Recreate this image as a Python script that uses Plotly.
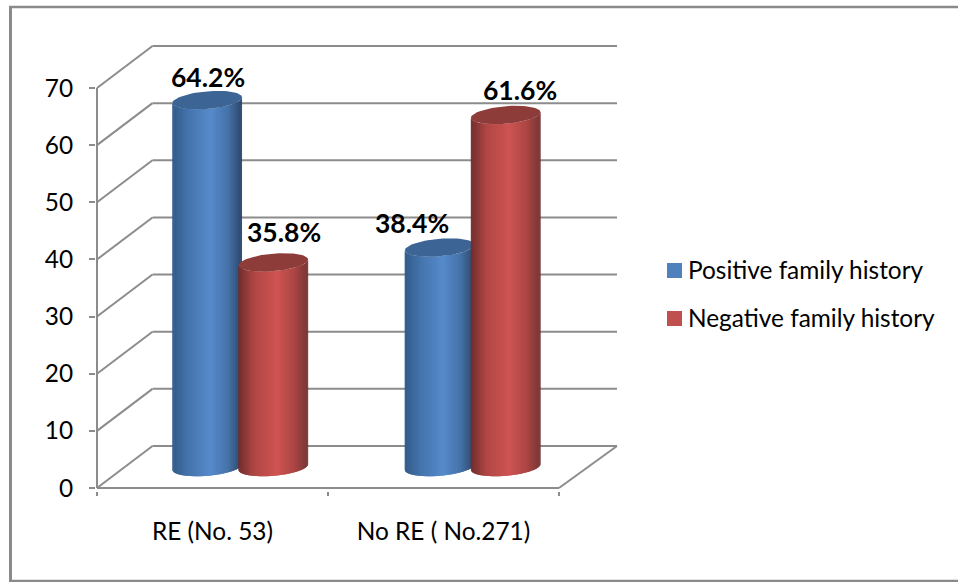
import math
import plotly.graph_objects as go

# Chart values
categories = ["RE (No. 53)", "No RE ( No.271)"]
series_names = ["Positive family history", "Negative family history"]
positive_values = [64.2, 38.4]
negative_values = [35.8, 61.6]
value_ticks = [0, 10, 20, 30, 40, 50, 60, 70]

# Pixel scale of the axes
PX_X = 231.0
PX_Y = 400.0 / 70.0
FONT = "Lato"
TICK_SIZE = 24.4
GRID = "#8c8c8c"
LEFT, RIGHT, TOP, BOTTOM = 96, 618, 42, 491
x_min = (LEFT - 97) / PX_X
x_max = (RIGHT - 97) / PX_X
y_max = (488 - TOP) / PX_Y
y_min = (488 - BOTTOM) / PX_Y

# Box depth used for the back wall and side wall
DEPTH_X = 55.5 / PX_X
DEPTH_Y = 42.0 / PX_Y
BACK_END = (617 - 97) / PX_X

# Cylinder proportions and placement
CLUSTER_CENTERS = [0.5, 1.506]
HALF_W = 34.8 / PX_X
ELL_B = 8.8 / PX_Y
ELL_TILT = 2.8 / PX_Y
BAR_SHIFT = 0.143
N_STRIPS = 60

BLUE_STOPS = [(-1, (50, 90, 138)), (-0.55, (68, 116, 172)), (0.1, (86, 138, 203)),
              (0.6, (70, 114, 168)), (1, (43, 70, 106))]
RED_STOPS = [(-1, (112, 46, 46)), (-0.55, (176, 70, 68)), (0.1, (206, 84, 82)),
             (0.6, (172, 70, 68)), (1, (116, 54, 54))]
BLUE_TOP = "rgb(60,100,148)"
RED_TOP = "rgb(142,60,58)"
LEGEND_COLORS = ["#4f81bd", "#c0504d"]


def shade(stops, u):
    for (u0, c0), (u1, c1) in zip(stops, stops[1:]):
        if u <= u1:
            f = (u - u0) / (u1 - u0)
            r, g, b = (round(a + (c - a) * f) for a, c in zip(c0, c1))
            return f"rgb({r},{g},{b})"
    return "rgb(%d,%d,%d)" % stops[-1][1]


def cylinder(center, value, stops, top_color):
    """Traces for one cylinder standing at mid-depth of the box."""
    traces = []
    base = DEPTH_Y / 2
    top = base + value

    def arc(level, t):
        return level - ELL_B * math.sin(t) + ELL_TILT * math.cos(t)

    # Strips are painted left to right, each overlapping the next to hide seams
    for i in range(N_STRIPS):
        t0 = math.pi * (1 - i / N_STRIPS)
        t1 = math.pi * (1 - (i + 1) / N_STRIPS)
        t2 = max(0.0, math.pi * (1 - (i + 2) / N_STRIPS))
        x0 = center + HALF_W * math.cos(t0)
        x2 = center + HALF_W * math.cos(t2)
        color = shade(stops, (math.cos(t0) + math.cos(t1)) / 2)
        traces.append(go.Scatter(
            x=[x0, x2, x2, x0, x0],
            y=[arc(base, t0), arc(base, t2), arc(top, t2), arc(top, t0), arc(base, t0)],
            mode="lines", fill="toself", fillcolor=color,
            line=dict(color=color, width=0),
            hoverinfo="skip", showlegend=False,
        ))
    steps = [2 * math.pi * k / 72 for k in range(73)]
    traces.append(go.Scatter(
        x=[center + HALF_W * math.cos(t) for t in steps],
        y=[top + ELL_B * math.sin(t) + ELL_TILT * math.cos(t) for t in steps],
        mode="lines", fill="toself", fillcolor=top_color,
        line=dict(color=top_color, width=0),
        hoverinfo="skip", showlegend=False,
    ))
    return traces


fig = go.Figure()

# Blue cylinders first so the red ones overlap them
for cluster, v in zip(CLUSTER_CENTERS, positive_values):
    for tr in cylinder(cluster + DEPTH_X / 2 - BAR_SHIFT, v, BLUE_STOPS, BLUE_TOP):
        fig.add_trace(tr)
for cluster, v in zip(CLUSTER_CENTERS, negative_values):
    for tr in cylinder(cluster + DEPTH_X / 2 + BAR_SHIFT, v, RED_STOPS, RED_TOP):
        fig.add_trace(tr)

# Legend entries: the text comes from the legend, the swatches are placed beside it
for name in series_names:
    fig.add_trace(go.Scatter(
        x=[None], y=[None], mode="markers", name=name, legendgroup=name,
        marker=dict(symbol="square", size=15, color="rgba(0,0,0,0)",
                    line=dict(width=0)),
    ))

# Box lines: floor edge, left axis, side-wall diagonals and back-wall gridlines
shapes = []


def box_line(x0, y0, x1, y1):
    shapes.append(dict(type="line", xref="x", yref="y", x0=x0, y0=y0, x1=x1, y1=y1,
                       layer="below", line=dict(color=GRID, width=2)))


box_line(0, 0, 2, 0)
box_line(0, 0, 0, value_ticks[-1])
box_line(2, 0, BACK_END, DEPTH_Y)
for v in value_ticks:
    box_line(0, v, DEPTH_X, v + DEPTH_Y)
    box_line(DEPTH_X, v + DEPTH_Y, BACK_END, v + DEPTH_Y)

# Outer chart frame (no right edge)
W, H = 958, 582
plot_w, plot_h = RIGHT - LEFT, BOTTOM - TOP


def px(x):
    return (x - LEFT) / plot_w


def py(y):
    return (BOTTOM - y) / plot_h


for (xa, ya, xb, yb, lw) in [(10.5, 7, 10.5, 582, 3), (9, 7, 958, 7, 2.5), (9, 581, 958, 581, 2.5)]:
    shapes.append(dict(type="line", xref="paper", yref="paper",
                       x0=px(xa), y0=py(ya), x1=px(xb), y1=py(yb),
                       line=dict(color="#8a8a8a", width=lw)))

# Legend swatches
for (y_top, color) in zip([263, 311], LEGEND_COLORS):
    shapes.append(dict(type="rect", xref="paper", yref="paper",
                       x0=px(667), x1=px(682), y0=py(y_top), y1=py(y_top + 15),
                       fillcolor=color, line=dict(width=0)))

# Value labels above the cylinders
label_offsets = {  # (series, category): pixel shift from the cylinder top
    (0, 0): (1, 23), (1, 0): (11, 30), (0, 1): (-28, 25), (1, 1): (14, 25),
}
annotations = []
for s, values in enumerate([positive_values, negative_values]):
    for i, v in enumerate(values):
        c = CLUSTER_CENTERS[i] + DEPTH_X / 2 + (BAR_SHIFT if s else -BAR_SHIFT)
        dx, dy = label_offsets[(s, i)]
        annotations.append(dict(
            x=c, y=DEPTH_Y / 2 + v, xref="x", yref="y", text=f"{v}%", showarrow=False,
            xanchor="center", yanchor="middle", xshift=dx, yshift=dy,
            font=dict(family=FONT, size=26.5, color="#000000", weight="bold"),
        ))

fig.update_layout(
    width=W, height=H,
    margin=dict(l=LEFT, r=W - RIGHT, t=TOP, b=H - BOTTOM, autoexpand=False),
    paper_bgcolor="white", plot_bgcolor="white",
    font=dict(family=FONT, size=TICK_SIZE, color="#000000"),
    shapes=shapes, annotations=annotations,
    xaxis=dict(
        range=[x_min, x_max], showgrid=False, zeroline=False, showline=False,
        tickmode="array", tickvals=[0.5, 1.5], ticktext=categories,
        ticks="", ticklabelstandoff=24, tickfont=dict(size=TICK_SIZE),
        minor=dict(tickmode="array", tickvals=[0, 1, 2], ticks="outside",
                   ticklen=4, tickwidth=2, tickcolor=GRID, showgrid=False),
    ),
    yaxis=dict(
        range=[y_min, y_max], showgrid=False, zeroline=False, showline=False,
        tickmode="array", tickvals=value_ticks, ticks="outside", ticklen=6,
        tickwidth=2, tickcolor=GRID, ticklabelstandoff=11, tickfont=dict(size=TICK_SIZE),
    ),
    legend=dict(
        x=px(648), y=py(247), xanchor="left", yanchor="top", tracegroupgap=13,
        bgcolor="rgba(0,0,0,0)", font=dict(family=FONT, size=TICK_SIZE), itemwidth=30,
    ),
)

fig.write_html("out.html")
